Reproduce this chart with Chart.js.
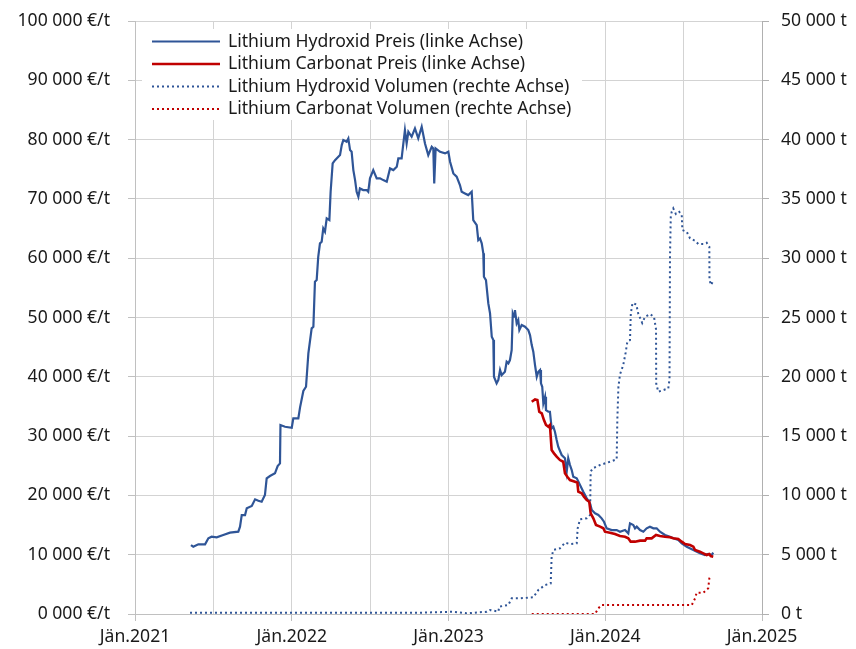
<!DOCTYPE html>
<html><head><meta charset="utf-8">
<script src="https://cdn.jsdelivr.net/npm/chart.js@4.4.0/dist/chart.umd.min.js"></script>
<style>html,body{margin:0;padding:0;background:#fff;}#wrap{width:856px;height:649px;}</style>
</head><body><div id="wrap"><canvas id="c" width="856" height="649"></canvas></div>
<script>
// ---- data (decimal years / values) ----
const seriesNames = ["Lithium Hydroxid Preis (linke Achse)","Lithium Carbonat Preis (linke Achse)","Lithium Hydroxid Volumen (rechte Achse)","Lithium Carbonat Volumen (rechte Achse)"];
const xTickYears = [2021, 2022, 2023, 2024, 2025];

const hydroxidPreisJahr = [2021.357,2021.372,2021.404,2021.447,2021.468,2021.489,2021.521,2021.563,2021.606,2021.659,2021.670,2021.681,2021.702,2021.713,2021.745,2021.766,2021.787,2021.808,2021.829,2021.840,2021.861,2021.893,2021.910,2021.925,2021.928,2021.957,2022.000,2022.010,2022.042,2022.053,2022.074,2022.091,2022.106,2022.127,2022.138,2022.148,2022.159,2022.169,2022.180,2022.191,2022.201,2022.212,2022.223,2022.240,2022.248,2022.261,2022.276,2022.308,2022.319,2022.329,2022.350,2022.361,2022.372,2022.382,2022.393,2022.404,2022.414,2022.425,2022.435,2022.456,2022.478,2022.488,2022.499,2022.520,2022.542,2022.563,2022.584,2022.606,2022.627,2022.648,2022.670,2022.680,2022.701,2022.712,2022.722,2022.733,2022.744,2022.765,2022.786,2022.807,2022.829,2022.850,2022.871,2022.893,2022.903,2022.909,2022.918,2022.946,2022.978,2022.999,2023.010,2023.031,2023.052,2023.073,2023.084,2023.105,2023.126,2023.148,2023.158,2023.180,2023.190,2023.201,2023.212,2023.222,2023.226,2023.239,2023.254,2023.265,2023.276,2023.286,2023.290,2023.307,2023.318,2023.329,2023.339,2023.360,2023.371,2023.382,2023.392,2023.403,2023.410,2023.418,2023.424,2023.435,2023.445,2023.452,2023.467,2023.488,2023.509,2023.520,2023.531,2023.541,2023.552,2023.563,2023.573,2023.584,2023.590,2023.598,2023.605,2023.616,2023.622,2023.637,2023.647,2023.658,2023.669,2023.679,2023.690,2023.700,2023.722,2023.743,2023.754,2023.764,2023.775,2023.786,2023.796,2023.818,2023.839,2023.860,2023.882,2023.903,2023.914,2023.935,2023.956,2023.977,2023.992,2024.009,2024.041,2024.073,2024.094,2024.126,2024.147,2024.158,2024.179,2024.190,2024.201,2024.222,2024.243,2024.264,2024.285,2024.307,2024.328,2024.349,2024.381,2024.413,2024.434,2024.466,2024.488,2024.520,2024.562,2024.604,2024.636,2024.657,2024.679,2024.689];
const hydroxidPreis = [11630,11350,11750,11750,12760,13030,12930,13320,13710,13880,14720,16690,16690,17820,18210,19340,19100,18940,20060,22880,23270,23720,24950,25400,31860,31580,31410,32990,32990,34850,37600,38320,43950,48170,48440,56030,56310,60240,62500,62780,65030,64470,66710,66430,71200,75990,76540,77390,79070,79920,79640,80200,78230,77950,74860,73170,71200,70360,71770,71490,71490,71200,73460,74860,73460,73460,73170,72890,75140,74860,75420,76820,76820,79350,81600,79350,81320,80480,81880,80200,82160,79350,77390,78790,78510,72610,78510,77950,77670,77950,76260,74300,73740,72330,71200,70920,70640,71200,66430,65590,63060,63340,62500,60820,56870,56310,52380,50700,46750,46200,40010,38900,39460,41140,40290,40850,42540,42260,42820,44510,50700,50130,51260,49010,49570,47880,48720,48440,47880,47040,45350,44230,41980,40010,40850,41140,38900,38320,35510,36630,34390,34110,34110,31310,31590,30740,29340,28210,26810,26250,23990,26250,25120,24280,23150,22870,21750,20620,19500,18660,17530,16980,16700,16130,15560,14450,14160,14160,13880,14160,13600,15290,15010,14450,14730,14160,13880,14450,14730,14450,14450,13880,13320,13030,12760,12480,11920,11350,10790,10230,9950,10120,9950,10330];

const carbonatPreisJahr = [2023.531,2023.552,2023.567,2023.579,2023.595,2023.609,2023.622,2023.637,2023.647,2023.658,2023.673,2023.690,2023.711,2023.732,2023.743,2023.758,2023.775,2023.807,2023.822,2023.828,2023.850,2023.864,2023.882,2023.898,2023.907,2023.924,2023.941,2023.967,2023.988,2023.998,2024.030,2024.062,2024.094,2024.126,2024.147,2024.162,2024.190,2024.222,2024.254,2024.264,2024.296,2024.324,2024.349,2024.381,2024.413,2024.434,2024.466,2024.488,2024.509,2024.541,2024.562,2024.573,2024.604,2024.626,2024.647,2024.664,2024.673,2024.689];
const carbonatPreis = [35790,36190,36080,34110,33840,32710,31870,31590,31870,27650,27090,26530,25960,25680,23720,23150,22590,22310,22150,20620,20340,19780,19220,18940,16980,16130,15010,14730,14450,13880,13710,13490,13150,13030,12760,12200,12200,12370,12370,12760,12760,13320,13150,13030,12930,12760,12650,12200,11800,11630,11350,10790,10510,10230,9950,10120,9780,9670];

const hydroxidVolJahr = [2021.351,2022.818,2023.031,2023.116,2023.244,2023.265,2023.318,2023.324,2023.382,2023.403,2023.456,2023.541,2023.573,2023.616,2023.652,2023.658,2023.669,2023.711,2023.743,2023.775,2023.818,2023.824,2023.839,2023.882,2023.903,2023.907,2023.920,2023.967,2024.030,2024.073,2024.077,2024.084,2024.094,2024.115,2024.130,2024.141,2024.158,2024.163,2024.174,2024.198,2024.211,2024.236,2024.254,2024.285,2024.311,2024.324,2024.325,2024.338,2024.370,2024.402,2024.410,2024.413,2024.418,2024.424,2024.434,2024.451,2024.472,2024.488,2024.492,2024.520,2024.541,2024.573,2024.594,2024.626,2024.647,2024.664,2024.665,2024.675,2024.689];
const hydroxidVol = [100,110,190,60,190,340,200,620,760,1320,1320,1410,2020,2440,2580,4830,5400,5540,6010,5900,5960,7220,7980,8070,8350,12000,12280,12560,12840,13040,16350,19160,20200,21000,22030,22960,23100,25350,26220,26100,25300,24540,25060,25290,25060,24000,19450,18740,18880,19020,19800,30120,33490,33910,34200,33720,33910,33640,32370,32230,31670,31470,31190,31190,31300,30960,28160,27740,28100];

const carbonatVolJahr = [2023.531,2023.935,2023.956,2023.977,2024.552,2024.573,2024.583,2024.626,2024.657,2024.664,2024.668];
const carbonatVol = [0,0,480,760,760,1320,1800,1800,2170,3010,3090];

// ---- chart ----
const FONT = "'Noto Sans', sans-serif";
const FSIZE = 17.6;
const BLUE = '#2f5597', RED = '#c00000';
const pts = (xs, ys) => xs.map((x, i) => ({x: x, y: ys[i]}));
const fmtThousands = v => (v === 0 ? '0' : String(Math.round(v / 1000))) + ' 000';

const legendInside = {
  id: 'legendInside',
  afterDatasetsDraw(chart) {
    const ctx = chart.ctx;
    ctx.save();
    ctx.fillStyle = '#ffffff';
    ctx.fillRect(142, 29, 440, 91);
    const rows = [41.5, 64, 86.5, 109];
    chart.data.datasets.forEach((ds, i) => {
      const y = rows[i];
      ctx.beginPath();
      ctx.strokeStyle = ds.borderColor;
      ctx.lineWidth = ds.borderWidth;
      ctx.setLineDash(ds.borderDash || []);
      ctx.moveTo(152, y); ctx.lineTo(220, y);
      ctx.stroke();
      ctx.setLineDash([]);
      ctx.fillStyle = '#1a1a1a';
      ctx.font = FSIZE + 'px ' + FONT;
      ctx.textBaseline = 'middle';
      ctx.textAlign = 'left';
      ctx.fillText(ds.label, 228, y);
    });
    ctx.restore();
  }
};

const noVPad = s => { s.paddingTop = 0; s.paddingBottom = 0; };

new Chart(document.getElementById('c'), {
  type: 'line',
  data: {
    datasets: [
      {label: seriesNames[0], data: pts(hydroxidPreisJahr, hydroxidPreis), borderColor: BLUE, borderWidth: 2.2, yAxisID: 'y', order: 1},
      {label: seriesNames[1], data: pts(carbonatPreisJahr, carbonatPreis), borderColor: RED, borderWidth: 2.6, yAxisID: 'y', order: 0},
      {label: seriesNames[2], data: pts(hydroxidVolJahr, hydroxidVol), borderColor: BLUE, borderWidth: 2, borderDash: [2, 3], yAxisID: 'y2', order: 2},
      {label: seriesNames[3], data: pts(carbonatVolJahr, carbonatVol), borderColor: RED, borderWidth: 2, borderDash: [2, 3], yAxisID: 'y2', order: 3}
    ]
  },
  options: {
    responsive: false,
    animation: false,
    elements: {point: {radius: 0}, line: {tension: 0, fill: false}},
    layout: {padding: {top: 21, left: 0, right: 0, bottom: 0}},
    plugins: {legend: {display: false}, tooltip: {enabled: false}},
    scales: {
      x: {
        type: 'linear', min: 2021, max: 2025,
        afterFit: s => { s.height = 35; s.paddingLeft = 0; s.paddingRight = 0; },
        grid: {color: '#d3d3d3', lineWidth: 1, tickLength: 7,
               tickColor: c => (c.tick && xTickYears.includes(c.tick.value)) ? '#c0c0c0' : 'rgba(0,0,0,0)'},
        border: {color: '#c0c0c0'},
        ticks: {stepSize: 0.5, autoSkip: false, maxRotation: 0, color: '#1a1a1a', padding: 5,
                font: {family: FONT, size: FSIZE},
                callback: v => xTickYears.includes(v) ? 'Jän.' + v : ''}
      },
      y: {
        position: 'left', min: 0, max: 100000,
        afterFit: s => { s.width = 135; noVPad(s); },
        grid: {color: '#d3d3d3', tickLength: 7, tickColor: '#c0c0c0'},
        border: {color: '#c0c0c0'},
        ticks: {stepSize: 10000, color: '#1a1a1a', padding: 18, font: {family: FONT, size: FSIZE},
                callback: v => fmtThousands(v) + ' €/t'}
      },
      y2: {
        position: 'right', min: 0, max: 50000,
        afterFit: s => { s.width = 94; noVPad(s); },
        grid: {drawOnChartArea: false, tickLength: 7, tickColor: '#b0b0b0'},
        border: {color: '#b0b0b0'},
        ticks: {stepSize: 5000, color: '#1a1a1a', padding: 12, font: {family: FONT, size: FSIZE},
                callback: v => (v === 0 ? '0' : fmtThousands(v)) + ' t'}
      }
    }
  },
  plugins: [legendInside]
});
</script></body></html>
